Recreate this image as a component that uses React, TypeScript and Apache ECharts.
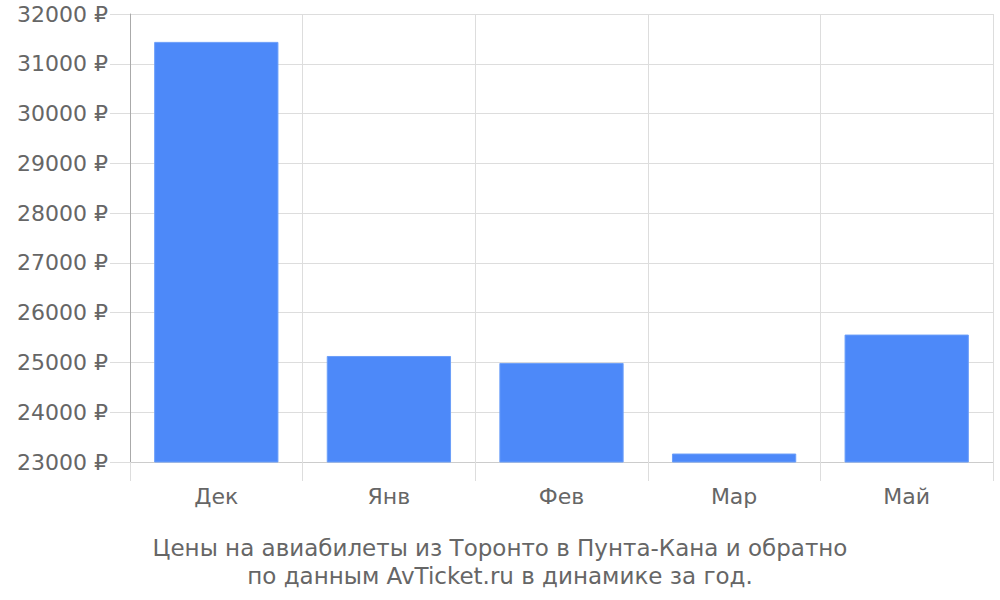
import React, { useEffect, useRef } from "react";
import * as echarts from "echarts";

const categories = ["Дек", "Янв", "Фев", "Мар", "Май"];
const prices = [31440, 25130, 24990, 23170, 25560];
const yMin = 23000;
const yMax = 32000;
const yStep = 1000;
const titleLines = [
  "Цены на авиабилеты из Торонто в Пунта-Кана и обратно",
  "по данным AvTicket.ru в динамике за год.",
];

export default function App() {
  const ref = useRef<HTMLDivElement>(null);
  useEffect(() => {
    if (!ref.current) return;
    const chart = echarts.init(ref.current, undefined, { renderer: "svg" });
    const font = "DejaVu Sans";
    chart.setOption({
      animation: false,
      textStyle: { fontFamily: font },
      title: {
        text: titleLines.join("\n"),
        left: "center",
        top: 529,
        textStyle: {
          fontFamily: font,
          fontSize: 23,
          fontWeight: "normal",
          color: "#666666",
          lineHeight: 28,
        },
      },
      grid: { left: 130, right: 7, top: 14, bottom: 138, containLabel: false },
      xAxis: {
        type: "category",
        data: categories,
        boundaryGap: true,
        axisLine: { show: true, lineStyle: { color: "#cccccc", width: 1 } },
        axisTick: { show: true, length: 19, alignWithLabel: false, lineStyle: { color: "#dddddd" } },
        splitLine: { show: true, lineStyle: { color: "#dddddd", width: 1 } },
        axisLabel: { fontFamily: font, fontSize: 22, color: "#666666", margin: 23 },
      },
      yAxis: {
        type: "value",
        min: yMin,
        max: yMax,
        interval: yStep,
        axisLine: { show: true, lineStyle: { color: "#aaaaaa", width: 1 } },
        axisTick: { show: true, length: 20, lineStyle: { color: "#dddddd" } },
        splitLine: { show: true, lineStyle: { color: "#dddddd", width: 1 } },
        axisLabel: {
          fontFamily: font,
          fontSize: 22,
          color: "#666666",
          margin: 22,
          formatter: (v: number) => `${v} ₽`,
        },
      },
      series: [
        {
          type: "bar",
          data: prices,
          barWidth: "72%",
          itemStyle: { color: "#4d89f9", borderColor: "#6b9ef9", borderWidth: 1 },
        },
      ],
    });
    return () => chart.dispose();
  }, []);
  return (
    <div
      ref={ref}
      style={{ position: "fixed", left: 0, top: 0, width: 1000, height: 600, background: "#ffffff" }}
    />
  );
}
